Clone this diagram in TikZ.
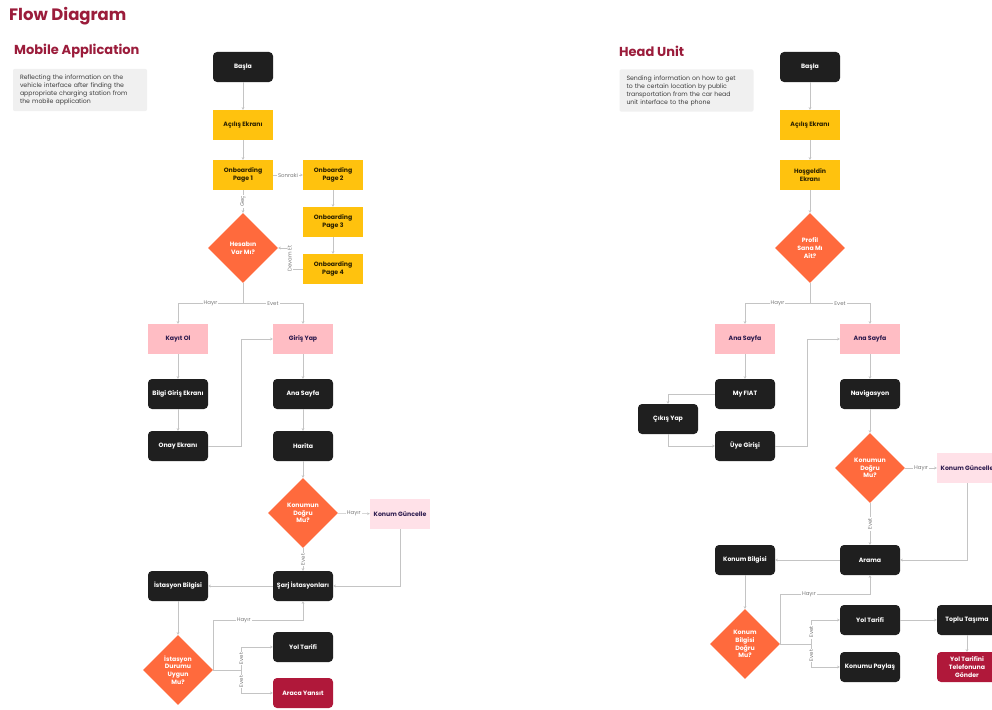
\documentclass[tikz,border=0pt]{standalone}
\usepackage{fontspec}
\setmainfont{Poppins}
\usetikzlibrary{arrows.meta,shapes.geometric}
\definecolor{FdTitle}{HTML}{9B1C3B}
\definecolor{FdDark}{HTML}{1F1F1F}
\definecolor{FdYellow}{HTML}{FFC20E}
\definecolor{FdOrange}{HTML}{FF6A3D}
\definecolor{FdPink}{HTML}{FFBDC4}
\definecolor{FdPale}{HTML}{FFE1E8}
\definecolor{FdRed}{HTML}{B0183A}
\definecolor{FdInk}{HTML}{2B2100}
\definecolor{FdNavy}{HTML}{2D1B4E}
\definecolor{FdLine}{HTML}{C4C4C4}
\definecolor{FdLabel}{HTML}{7A7A7A}
\definecolor{FdPanel}{HTML}{F0F0F0}
\definecolor{FdText}{HTML}{3C3C3C}
\tikzset{
  fd title/.style={text=FdTitle,font=\fontsize{16.5}{18}\selectfont\bfseries,inner sep=0pt},
  fd heading/.style={text=FdTitle,font=\fontsize{13}{15}\selectfont\bfseries,inner sep=0pt},
  fd note/.style={
    fill=FdPanel,
    rounded corners=2pt,
    text=FdText,
    align=left,
    text width=120pt,
    inner xsep=7pt,
    inner ysep=6pt,
    font=\fontsize{6.2}{8}\selectfont
  },
  fd box/.style={
    minimum width=60pt,
    minimum height=30pt,
    inner sep=1pt,
    align=center,
    font=\fontsize{6.2}{7.6}\selectfont\bfseries
  },
  fd dark/.style={fd box,fill=FdDark,rounded corners=4pt,text=white},
  fd yellow/.style={fd box,fill=FdYellow,text=FdInk},
  fd pink/.style={fd box,fill=FdPink,text=FdNavy},
  fd pale/.style={fd box,fill=FdPale,text=FdNavy},
  fd red/.style={fd box,fill=FdRed,rounded corners=4pt,text=white},
  fd decision/.style={
    diamond,
    fill=FdOrange,
    text=white,
    minimum width=70pt,
    minimum height=70pt,
    inner sep=0pt,
    align=center,
    font=\fontsize{6.2}{7.8}\selectfont\bfseries
  },
  fd flow/.style={
    -{Stealth[length=2.6pt,width=2.6pt]},
    draw=FdLine,
    line width=0.6pt
  },
  fd label/.style={fill=white,text=FdLabel,inner sep=1pt,font=\fontsize{5.4}{6}\selectfont}
}

\begin{document}
\begin{tikzpicture}[x=1pt,y=-1pt]
  \useasboundingbox (0,0) rectangle (992,709);
  \clip (0,0) rectangle (992,709);
  \fill[white] (0,0) rectangle (992,709);

  \node[fd title,anchor=west] (t0) at (9,16) {Flow Diagram};
  \node[fd heading,anchor=west] (t1) at (14,51) {Mobile Application};
  \node[fd heading,anchor=west] (t2) at (619,51) {Head Unit};
  \node[fd note] (n1) at (80,90) {Reflecting the information on the\\vehicle interface after finding the\\appropriate charging station from\\the mobile application};
  \node[fd note] (n2) at (686.5,90.5) {Sending information on how to get\\to the certain location by public\\transportation from the car head\\unit interface to the phone};

  % mobile application
  \node[fd dark] (a1) at (243,67) {Başla};
  \node[fd yellow] (a2) at (243,125) {Açılış Ekranı};
  \node[fd yellow] (a3) at (243,175) {Onboarding\\Page 1};
  \node[fd yellow] (a4) at (333,175) {Onboarding\\Page 2};
  \node[fd yellow] (a5) at (333,222) {Onboarding\\Page 3};
  \node[fd yellow] (a6) at (333,269) {Onboarding\\Page 4};
  \node[fd decision] (q1) at (243,248) {Hesabın\\Var Mı?};
  \node[fd pink] (b1) at (178,339) {Kayıt Ol};
  \node[fd pink] (b2) at (303,339) {Giriş Yap};
  \node[fd dark] (b3) at (178,394) {Bilgi Giriş Ekranı};
  \node[fd dark] (b4) at (303,394) {Ana Sayfa};
  \node[fd dark] (b5) at (178,446) {Onay Ekranı};
  \node[fd dark] (b6) at (303,446) {Harita};
  \node[fd decision] (q2) at (303,513) {Konumun\\Doğru\\Mu?};
  \node[fd pale] (c1) at (400,514) {Konum Güncelle};
  \node[fd dark] (c2) at (303,586) {Şarj İstasyonları};
  \node[fd dark] (c3) at (178,586) {İstasyon Bilgisi};
  \node[fd decision] (q3) at (178,670) {İstasyon\\Durumu\\Uygun\\Mu?};
  \node[fd dark] (d1) at (303,647) {Yol Tarifi};
  \node[fd red] (d2) at (303,693) {Araca Yansıt};

  \draw[fd flow] (a1) -- (a2);
  \draw[fd flow] (a2) -- (a3);
  \draw[fd flow] (a3) -- node[fd label]{Sonraki} (a4);
  \draw[fd flow] (a4) -- (a5);
  \draw[fd flow] (a5) -- (a6);
  \draw[fd flow] (a6.west) -- ++(-13,0) |- node[pos=0.25,fd label,rotate=90]{Devam Et} (q1.east);
  \draw[fd flow] (a3) -- node[fd label,rotate=90]{Geç} (q1);
  \draw[fd flow] (q1.south) -- ++(0,20) -| node[pos=0.25,fd label]{Hayır} (b1);
  \draw[fd flow] (q1.south) -- ++(0,20) -| node[pos=0.25,fd label]{Evet} (b2);
  \draw[fd flow] (b1) -- (b3);
  \draw[fd flow] (b3) -- (b5);
  \draw[fd flow] (b5.east) -- ++(33,0) |- (b2.west);
  \draw[fd flow] (b2) -- (b4);
  \draw[fd flow] (b4) -- (b6);
  \draw[fd flow] (b6) -- (q2);
  \draw[fd flow] (q2) -- node[fd label]{Hayır} (c1);
  \draw[fd flow] (q2) -- node[fd label,rotate=90]{Evet} (c2);
  \draw[fd flow] (c1) |- (c2);
  \draw[fd flow] (c2) -- (c3);
  \draw[fd flow] (c3) -- (q3);
  \draw[fd flow] (q3.east) -- ++(0,-50) -| node[pos=0.17,fd label]{Hayır} (c2.south);
  \draw[fd flow] (q3.east) -- ++(28,0) |- node[pos=0.25,fd label,rotate=90]{Evet} (d1.west);
  \draw[fd flow] (q3.east) -- ++(28,0) |- node[pos=0.25,fd label,rotate=90]{Evet} (d2.west);

  % head unit
  \node[fd dark] (e1) at (810,67) {Başla};
  \node[fd yellow] (e2) at (810,125) {Açılış Ekranı};
  \node[fd yellow] (e3) at (810,175) {Hoşgeldin\\Ekranı};
  \node[fd decision] (p1) at (810,248) {Profil\\Sana Mı\\Ait?};
  \node[fd pink] (f1) at (745,339) {Ana Sayfa};
  \node[fd pink] (f2) at (870,339) {Ana Sayfa};
  \node[fd dark] (f3) at (745,394) {My FIAT};
  \node[fd dark] (f4) at (745,446) {Üye Girişi};
  \node[fd dark] (f5) at (668,419) {Çıkış Yap};
  \node[fd dark] (f6) at (870,394) {Navigasyon};
  \node[fd decision] (p2) at (870,468) {Konumun\\Doğru\\Mu?};
  \node[fd pale] (g1) at (967,468) {Konum Güncelle};
  \node[fd dark] (g2) at (870,560) {Arama};
  \node[fd dark] (g3) at (745,560) {Konum Bilgisi};
  \node[fd decision] (p3) at (745,644) {Konum\\Bilgisi\\Doğru\\Mu?};
  \node[fd dark] (h1) at (870,620) {Yol Tarifi};
  \node[fd dark] (h2) at (870,667) {Konumu Paylaş};
  \node[fd dark] (h3) at (967,620) {Toplu Taşıma};
  \node[fd red] (h4) at (967,667) {Yol Tarifini\\Telefonuna\\Gönder};

  \draw[fd flow] (e1) -- (e2);
  \draw[fd flow] (e2) -- (e3);
  \draw[fd flow] (e3) -- (p1);
  \draw[fd flow] (p1.south) -- ++(0,20) -| node[pos=0.25,fd label]{Hayır} (f1);
  \draw[fd flow] (p1.south) -- ++(0,20) -| node[pos=0.25,fd label]{Evet} (f2);
  \draw[fd flow] (f1) -- (f3);
  \draw[fd flow] (f3) -| (f5);
  \draw[fd flow] (f5) |- (f4);
  \draw[fd flow] (f4.east) -- ++(32,0) |- (f2.west);
  \draw[fd flow] (f2) -- (f6);
  \draw[fd flow] (f6) -- (p2);
  \draw[fd flow] (p2) -- node[fd label]{Hayır} (g1);
  \draw[fd flow] (p2) -- node[fd label,rotate=90]{Evet} (g2);
  \draw[fd flow] (g1) |- (g2);
  \draw[fd flow] (g2) -- (g3);
  \draw[fd flow] (g3) -- (p3);
  \draw[fd flow] (p3.east) -- ++(0,-50) -| node[pos=0.16,fd label]{Hayır} (g2.south);
  \draw[fd flow] (p3.east) -- ++(31,0) |- node[pos=0.25,fd label,rotate=90]{Evet} (h1.west);
  \draw[fd flow] (p3.east) -- ++(31,0) |- node[pos=0.25,fd label,rotate=90]{Evet} (h2.west);
  \draw[fd flow] (h1) -- (h3);
  \draw[fd flow] (h3) -- (h4);
\end{tikzpicture}
\end{document}
